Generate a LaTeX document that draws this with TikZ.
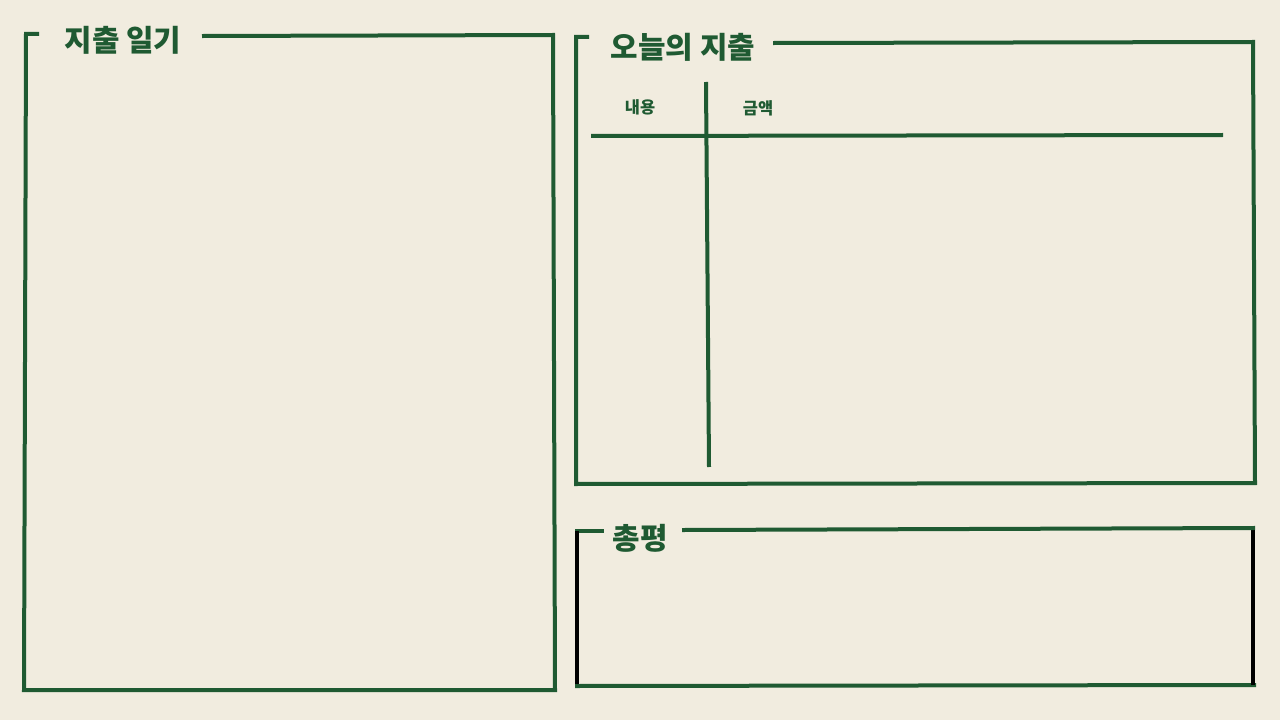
\documentclass[tikz,border=0pt]{standalone}
\usepackage{fontspec}
\newfontfamily\kr{Noto Sans CJK KR}
\definecolor{paper}{RGB}{241,236,223}
\definecolor{ink}{RGB}{31,90,50}
\tikzset{
  frame/.style={draw=ink, line width=4bp, line join=miter, line cap=rect},
  blackedge/.style={draw=black, line width=4bp},
  title/.style={text=ink, inner sep=0pt, font=\kr\bfseries\fontsize{30}{33}\selectfont},
  head/.style={text=ink, inner sep=0pt, font=\kr\bfseries\fontsize{16.5}{19}\selectfont}
}
\begin{document}
\begin{tikzpicture}[x=1bp,y=-1bp]
\useasboundingbox (0,0) rectangle (1280,720);
\fill[paper] (0,0) rectangle (1280,720);
% left box
\draw[frame] (37,34) -- (26,34) -- (24,690) -- (555,690) -- (553,35) -- (204,36);
\node[title] (t1) at (123,40) {지출 일기};
% top right box
\draw[frame] (587,37) -- (576,37) -- (576,484) -- (1255,483) -- (1253,42) -- (775,43);
\node[title] (t2) at (683,47) {오늘의 지출};
% table
\draw[frame, line cap=butt] (706,82) -- (709,467);
\draw[frame, line cap=butt] (591,136) -- (1223,135);
\node[head] (h1) at (640,107) {내용};
\node[head] (h2) at (758,108) {금액};
% bottom box
\draw[frame] (602,531) -- (577,531);
\draw[blackedge] (577,531) -- (577,686);
\draw[frame] (577,686) -- (1254,685);
\draw[blackedge] (1253,685) -- (1253,528);
\draw[frame] (1253,528) -- (684,530);
\node[title] (t3) at (640,538) {총평};
\end{tikzpicture}
\end{document}
